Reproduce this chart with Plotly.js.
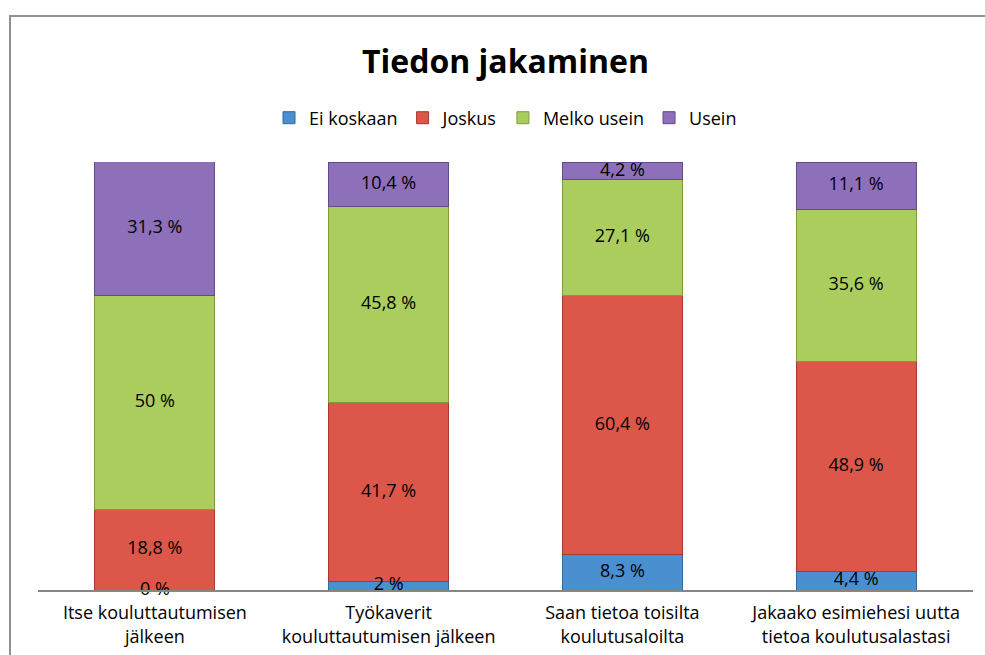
<!DOCTYPE html>
<html>
<head>
<meta charset="utf-8">
<script src="https://cdn.plot.ly/plotly-3.0.1.min.js"></script>
<style>
html,body{margin:0;padding:0;background:#fff;}
#chart{width:985px;height:655px;}
</style>
</head>
<body>
<div id="chart"></div>
<script>
const categories = [
  "Itse kouluttautumisen<br>jälkeen",
  "Työkaverit<br>kouluttautumisen jälkeen",
  "Saan tietoa toisilta<br>koulutusaloilta",
  "Jakaako esimiehesi uutta<br>tietoa koulutusalastasi"
];
const seriesNames = ["Ei koskaan", "Joskus", "Melko usein", "Usein"];
const eiKoskaan = [0, 2, 8.3, 4.4];
const joskus = [18.8, 41.7, 60.4, 48.9];
const melkoUsein = [50, 45.8, 27.1, 35.6];
const usein = [31.3, 10.4, 4.2, 11.1];
const seriesValues = [eiKoskaan, joskus, melkoUsein, usein];
const fillColors = ["#4a8fd0", "#dc5749", "#abcd5d", "#8e6fb9"];
const lineColors = ["#2f6aa3", "#a8372d", "#7f9c3a", "#634a8c"];

const FONT = "Open Sans, Noto Sans, sans-serif";
const fmt = v => String(v).replace('.', ',') + ' %';

const traces = [];
seriesValues.forEach((vals, i) => {
  traces.push({
    type: 'bar',
    name: seriesNames[i],
    x: categories,
    y: vals,
    marker: {color: fillColors[i], line: {color: lineColors[i], width: 1}},
    hoverinfo: 'skip'
  });
});
// data labels at segment centres
const cum = categories.map(() => 0);
const lx = [], ly = [], lt = [];
seriesValues.forEach(vals => {
  vals.forEach((v, j) => {
    lx.push(categories[j]);
    ly.push(cum[j] + v / 2);
    lt.push(fmt(v));
    cum[j] += v;
  });
});
traces.push({
  type: 'scatter', mode: 'text', x: lx, y: ly, text: lt,
  textposition: 'middle center',
  textfont: {family: FONT, size: 18, color: '#000'},
  showlegend: false, hoverinfo: 'skip', cliponaxis: false
});

const layout = {
  width: 985, height: 655,
  margin: {l: 38, r: 12, t: 162, b: 65},
  paper_bgcolor: '#fff', plot_bgcolor: '#fff',
  barmode: 'stack', bargap: 0.486,
  font: {family: FONT, color: '#000'},
  title: {text: '<b>Tiedon jakaminen</b>', x: 0.5, xref: 'paper', xanchor: 'center',
          y: 1 - 62/655, yanchor: 'middle', font: {family: FONT, size: 32, color: '#000'}},
  legend: {orientation: 'h', x: 0.5, xanchor: 'center', y: (590-118)/428, yanchor: 'middle',
           font: {family: FONT, size: 18, color: '#000'}, traceorder: 'normal', itemwidth: 30},
  xaxis: {showline: true, linecolor: '#868686', linewidth: 1.5, ticks: '', showgrid: false,
          ticklabelstandoff: 6,
          tickfont: {family: FONT, size: 18, color: '#000'}, fixedrange: true},
  yaxis: {range: [0, 100], visible: false, fixedrange: true},
  shapes: [{type: 'rect', xref: 'paper', yref: 'paper',
            x0: (10-38)/935, x1: (1000-38)/935, y0: (590-670)/428, y1: (590-16)/428,
            line: {color: '#929292', width: 2}, fillcolor: 'rgba(0,0,0,0)', layer: 'below'}]
};

Plotly.newPlot('chart', traces, layout, {staticPlot: true, displayModeBar: false});
</script>
</body>
</html>
